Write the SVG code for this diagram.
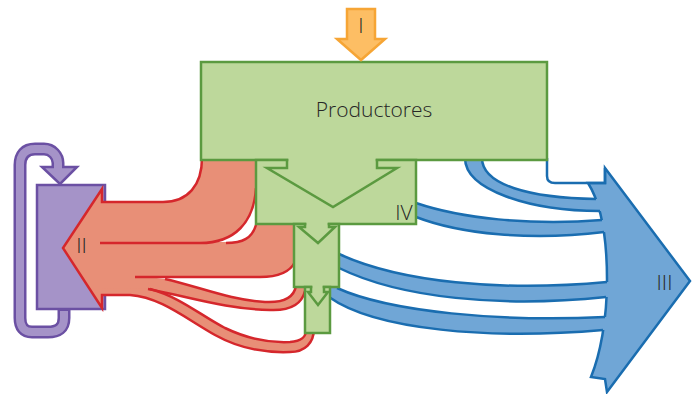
<svg xmlns="http://www.w3.org/2000/svg" width="694" height="394" viewBox="0 0 694 394">
<style>
.g{fill:#BDD89B;stroke:#5B9A40;stroke-width:2.5}
.gf{fill:#BDD89B}
.gl{fill:none;stroke:#5B9A40;stroke-width:2.5;stroke-linejoin:miter}
.rf{fill:#E88F77}
.rl{fill:none;stroke:#D5272C;stroke-width:2.5;stroke-linejoin:miter}
.bf{fill:#70A6D6}
.bl{fill:none;stroke:#1A6DB0;stroke-width:2.5;stroke-linejoin:miter}
.bh{fill:#70A6D6;stroke:#1A6DB0;stroke-width:2.5;stroke-linejoin:miter}
.pf{fill:#A593C8;stroke:#6B50A3;stroke-width:2.5;stroke-linejoin:miter}
.lbl{font-family:"Open Sans","Noto Sans",sans-serif;font-weight:300;fill:#262626;font-size:21px;text-anchor:middle}
</style>
<rect x="0" y="0" width="694" height="394" fill="#FFFFFF"/>

<g id="node-III">
  <path class="bh" d="M605,168 L690,281 L607,392 L605,379 L591,377 C600,355 607,320 607,280 C607,240 602,205 588,183 L605,183 Z"/>
  <text class="lbl" x="664.5" y="290">III</text>
</g>

<g id="node-II">
  <rect class="pf" x="37" y="185" width="68" height="124"/>
</g>

<g id="connectors">
  <!-- purple self loop -->
  <path d="M64,310 L64,318 C64,328 58,332 48,332 L32,332 C24,332 20,327 20,318 L20,165 C20,155 25,149 35,149 L44,149 C52,149 58,156 58,163 L58,170" fill="none" stroke="#6B50A3" stroke-width="13"/>
  <polygon class="pf" points="42,167 77,167 60,184"/>
  <path d="M64,311 L64,318 C64,328 58,332 48,332 L32,332 C24,332 20,327 20,318 L20,165 C20,155 25,149 35,149 L44,149 C52,149 58,156 58,163 L58,169.5" fill="none" stroke="#A593C8" stroke-width="8"/>

  <!-- red flows into II -->
  <path class="rf" d="M63,248 L102,189 L102,202 L110,202 L110,295 L102,295 L102,308 Z"/>
  <path class="rf" d="M102,202 L163,202 C188,202 202,185 202,158 L257,158 L257,188 C254,222 235,243 200,243 L102,243 Z"/>
  <path class="rf" d="M102,242 L226,242 C243,242 252,238 256,226 L256,222 L297,222 L297,262 L295,262 C290,272 278,277 260,277 L102,277 Z"/>
  <path class="rf" d="M102,276 L140,276 L165,279 C200,287 230,300 265,302 C285,303 294,297 296,287 L296,284 L308,284 L308,292 L305,292 C302,303 292,311 270,310 C225,309 190,297 148,289 L102,289 Z"/>
  <path class="rf" d="M102,288 L150,289 C180,297 200,315 225,328 C250,340 270,343 290,342 C302,341 306,337 306,328 L314,328 C314,343 305,352 290,352 C265,353 240,349 215,335 C185,318 160,297 130,295 L102,295 Z"/>
  <path class="rl" d="M202,158 C202,185 188,202 163,202 L102,202 L102,189 L63,248 L102,308 L102,295 L130,295 C160,297 185,318 215,335 C240,349 265,353 290,352 C305,352 314,343 314,328"/>
  <path class="rl" d="M256,188 C254,222 235,243 200,243 L100,243"/>
  <path class="rl" d="M256,225 C252,238 243,243 226,243"/>
  <path class="rl" d="M295,262 C290,272 278,277 260,277 L135,277"/>
  <path class="rl" d="M165,279 C200,287 230,300 265,302 C285,303 294,297 296,286"/>
  <path class="rl" d="M148,289 C190,297 225,309 270,310 C292,311 302,303 305,291"/>
  <path class="rl" d="M150,289 C180,297 200,315 225,328 C250,340 270,343 290,342 C302,341 306,337 306,330"/>

  <!-- blue flows into III -->
  <path class="bl" d="M547,158 V176 Q547,183 555,183 H605 V168"/>
  <path class="bf" d="M482,158 C482,185 530,198 596,199 L612,199 L612,211 L600,211 C530,211 465,190 465,158 Z"/>
  <path class="bl" d="M482,158 C482,185 530,198 596,199"/>
  <path class="bl" d="M465,158 C465,190 530,211 600,211"/>
  <path class="bf" d="M410,203 L416,203 C460,218 530,226 602,220 L612,220 L612,232 L604,232 C530,241 460,234 416,217 L410,217 Z"/>
  <path class="bl" d="M416,203 C460,218 530,226 602,220"/>
  <path class="bl" d="M416,217 C460,234 530,241 604,232"/>
  <path class="bf" d="M333,254 L339,254 C400,282 500,292 607,282 L614,282 L614,297 L606,297 C500,308 400,298 339,268 L333,268 Z"/>
  <path class="bl" d="M339,254 C400,282 500,292 607,282"/>
  <path class="bl" d="M339,268 C400,298 500,308 606,297"/>
  <path class="bf" d="M322,288 L337,288 C390,312 500,322 605,317 L612,317 L612,330 L603,330 C490,340 375,330 329,297 L322,297 Z"/>
  <path class="bl" d="M337,288 C390,312 500,322 605,317"/>
  <path class="bl" d="M329,297 C375,330 490,340 603,330"/>
</g>

<g id="node-II-label">
  <text class="lbl" x="81.5" y="253">II</text>
</g>

<g id="node-productores">
  <rect class="g" x="201" y="62" width="346" height="98"/>
  <text class="lbl" x="374" y="117">Productores</text>
</g>

<g id="node-IV">
  <rect class="g" x="256" y="160" width="160" height="64"/>
  <rect class="g" x="294" y="224" width="45" height="63"/>
  <rect class="g" x="305" y="287" width="25" height="46"/>
  <rect class="gf" x="288.3" y="157.5" width="87.4" height="5"/>
  <rect class="gf" x="306.3" y="222" width="21.4" height="5"/>
  <rect class="gf" x="312.3" y="285" width="10.4" height="5"/>
  <path class="gl" d="M287,159 V168 H267 L333,207 L397,168 H377 V159"/>
  <path class="gl" d="M305,223 V227 H299 L318,243 L335,227 H329 V223"/>
  <path class="gl" d="M311,286 V292 H308 L318,305 L328,292 H324 V286"/>
  <text class="lbl" x="404" y="220">IV</text>
</g>

<g id="node-I">
  <polygon points="347,9 375,9 375,39 385,39 361,60 337,39 347,39" fill="#FDBE64" stroke="#F6A535" stroke-width="2.5" stroke-linejoin="miter"/>
  <text class="lbl" x="361" y="33">I</text>
</g>
</svg>
